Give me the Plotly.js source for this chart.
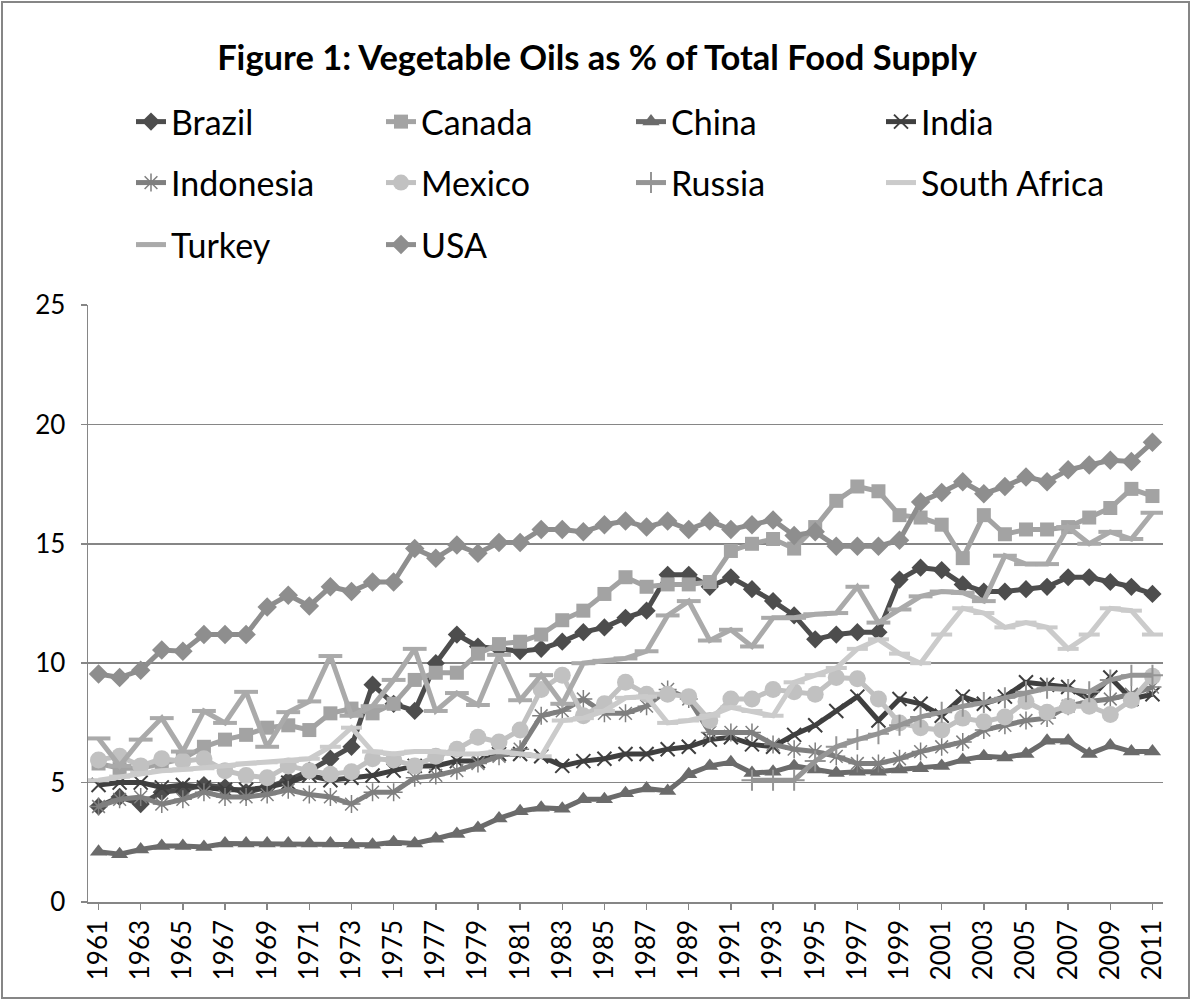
<!DOCTYPE html>
<html>
<head>
<meta charset="utf-8">
<script src="https://cdn.plot.ly/plotly-3.0.1.min.js"></script>
<style>
  html, body { margin: 0; padding: 0; background: #ffffff; }
  #chart { width: 1194px; height: 1000px; position: absolute; left: 0; top: 0; }
  #frame { position: absolute; left: 1px; top: 1px; width: 1185px; height: 994px; border: 2px solid #868686; pointer-events: none; }
</style>
</head>
<body>
<div id="chart"></div>
<div id="frame"></div>
<script>
const years = [1961,1962,1963,1964,1965,1966,1967,1968,1969,1970,
  1971,1972,1973,1974,1975,1976,1977,1978,1979,1980,
  1981,1982,1983,1984,1985,1986,1987,1988,1989,1990,
  1991,1992,1993,1994,1995,1996,1997,1998,1999,2000,
  2001,2002,2003,2004,2005,2006,2007,2008,2009,2010,2011];

const tickYears = [1961,1963,1965,1967,1969,1971,1973,1975,1977,1979,1981,1983,1985,1987,1989,
  1991,1993,1995,1997,1999,2001,2003,2005,2007,2009,2011];
const tickLabels = tickYears.map(String);

const brazil = [4.0,4.4,4.1,4.6,4.7,4.9,4.8,4.6,4.8,5.1,
  5.5,6.0,6.5,9.1,8.3,8.0,10.0,11.2,10.7,10.6,
  10.5,10.6,10.9,11.3,11.5,11.9,12.2,13.7,13.7,13.2,
  13.6,13.1,12.6,12.0,11.0,11.2,11.3,11.3,13.5,14.0,
  13.9,13.3,13.0,13.0,13.1,13.2,13.6,13.6,13.4,13.2,12.9];

const canada = [5.8,5.6,5.6,5.8,6.0,6.5,6.8,7.0,7.3,7.4,
  7.2,7.9,8.1,7.9,8.3,9.3,9.6,9.6,10.4,10.8,
  10.9,11.2,11.8,12.2,12.9,13.6,13.2,13.3,13.3,13.4,
  14.7,15.0,15.2,14.8,15.7,16.8,17.4,17.2,16.2,16.1,
  15.8,14.4,16.2,15.4,15.6,15.6,15.7,16.1,16.5,17.3,17.0];

const china = [2.1,2.0,2.2,2.35,2.35,2.3,2.45,2.45,2.45,2.45,
  2.45,2.45,2.4,2.4,2.5,2.45,2.65,2.85,3.1,3.5,
  3.8,3.95,3.9,4.3,4.3,4.55,4.75,4.65,5.35,5.7,
  5.85,5.4,5.45,5.7,5.55,5.4,5.45,5.45,5.55,5.6,
  5.7,5.95,6.1,6.05,6.2,6.75,6.75,6.2,6.55,6.3,6.3];

const india = [4.9,5.0,5.0,4.8,4.9,4.8,4.7,4.7,4.8,5.0,
  5.3,5.1,5.2,5.3,5.5,5.7,5.7,5.9,5.9,6.2,
  6.2,6.1,5.7,5.9,6.0,6.2,6.2,6.4,6.5,6.8,
  6.9,6.6,6.5,7.0,7.4,8.0,8.6,7.6,8.5,8.3,
  7.8,8.6,8.3,8.6,9.2,9.1,9.0,8.5,9.4,8.5,8.7];

const indonesia = [4.0,4.3,4.4,4.1,4.3,4.6,4.4,4.4,4.5,4.7,
  4.5,4.4,4.1,4.6,4.6,5.2,5.3,5.5,5.8,6.1,
  6.4,7.8,8.0,8.5,7.9,7.9,8.2,8.9,8.5,7.1,
  7.1,7.1,6.6,6.4,6.3,6.1,5.8,5.8,6.0,6.3,
  6.5,6.7,7.2,7.4,7.6,7.7,8.2,8.4,8.5,8.7,9.0];

const mexico = [5.95,6.1,5.7,6.0,5.9,6.0,5.5,5.3,5.2,5.7,
  5.5,5.35,5.45,6.0,5.95,5.7,6.1,6.4,6.9,6.7,
  7.2,8.9,9.5,7.8,8.3,9.2,8.7,8.7,8.6,7.6,
  8.5,8.5,8.9,8.8,8.7,9.4,9.35,8.5,7.5,7.3,
  7.2,7.7,7.55,7.75,8.4,7.95,8.2,8.2,7.85,8.45,9.45];

const russiaYears = [1992,1993,1994,1995,1996,1997,1998,1999,2000,
  2001,2002,2003,2004,2005,2006,2007,2008,2009,2010,2011];
const russia = [5.1,5.1,5.1,5.9,6.5,6.8,7.05,7.4,7.75,
  7.95,8.2,8.35,8.55,8.8,8.95,8.9,8.8,9.3,9.5,9.5];

const southAfrica = [5.1,5.25,5.4,5.5,5.55,5.6,5.7,5.8,5.85,5.9,
  6.0,6.5,7.3,6.3,6.2,6.3,6.3,6.2,6.2,6.3,
  6.2,6.1,7.6,7.7,8.0,8.55,8.6,7.5,7.6,7.8,
  8.15,8.0,7.8,9.2,9.5,9.8,10.6,11.0,10.4,10.0,
  11.2,12.3,12.1,11.5,11.7,11.5,10.6,11.2,12.3,12.2,11.2];

const turkey = [6.85,5.7,6.8,7.7,6.3,8.0,7.5,8.8,6.5,7.95,
  8.4,10.3,7.8,8.2,9.3,10.6,8.0,8.75,8.25,10.35,
  8.45,9.5,8.3,10.0,10.1,10.2,10.5,12.0,12.6,10.95,
  11.4,10.7,11.9,11.9,12.05,12.1,13.2,11.7,12.25,12.8,
  13.0,12.95,12.6,14.5,14.15,14.15,15.7,15.0,15.5,15.2,16.3];

const usa = [9.55,9.4,9.7,10.55,10.5,11.2,11.2,11.2,12.35,12.85,
  12.4,13.2,13.0,13.4,13.4,14.8,14.4,14.95,14.6,15.05,
  15.05,15.6,15.6,15.5,15.8,15.95,15.7,15.95,15.6,15.95,
  15.6,15.8,16.0,15.35,15.5,14.9,14.9,14.9,15.15,16.75,
  17.15,17.6,17.1,17.4,17.8,17.6,18.1,18.3,18.5,18.45,19.25];

const FONT = 'Lato, "Open Sans", sans-serif';
const LW = 5;

function tr(name, x, y, color, marker, legend) {
  return {
    type: 'scatter', mode: 'lines+markers', name: name, x: x, y: y,
    line: {color: color, width: LW},
    marker: Object.assign({color: color}, marker),
    legend: legend, connectgaps: false, hoverinfo: 'skip'
  };
}

const data = [
  tr('Brazil', years, brazil, '#4d4d4d', {symbol: 'diamond', size: 14}, 'legend'),
  tr('Canada', years, canada, '#a3a3a3', {symbol: 'square', size: 14}, 'legend'),
  tr('China', years, china, '#6b6b6b', {symbol: 'triangle-up', size: 15}, 'legend'),
  tr('India', years, india, '#3f3f3f', {symbol: 'x-thin-open', size: 14, line: {color: '#3f3f3f', width: 2}}, 'legend'),
  tr('Indonesia', years, indonesia, '#7f7f7f', {symbol: 'asterisk-open', size: 15, line: {color: '#7f7f7f', width: 1.5}}, 'legend2'),
  tr('Mexico', years, mexico, '#c1c1c1', {symbol: 'circle', size: 17}, 'legend2'),
  tr('Russia', russiaYears, russia, '#959595', {symbol: 'cross-thin-open', size: 15, line: {color: '#959595', width: 2}}, 'legend2'),
  tr('South Africa', years, southAfrica, '#cbcbcb', {symbol: 'line-ew-open', size: 15, line: {color: '#cbcbcb', width: 4}}, 'legend2'),
  tr('Turkey', years, turkey, '#aaaaaa', {symbol: 'line-ew-open', size: 17, line: {color: '#aaaaaa', width: 4}}, 'legend3'),
  tr('USA', years, usa, '#8e8e8e', {symbol: 'diamond', size: 15}, 'legend3')
];

function leg(y) {
  return {
    orientation: 'h', x: 0.04, xanchor: 'left', y: y, yanchor: 'middle',
    entrywidth: 205, entrywidthmode: 'pixels',
    font: {family: FONT, size: 34, color: '#000000'},
    bgcolor: 'rgba(0,0,0,0)', borderwidth: 0, traceorder: 'normal'
  };
}

const layout = {
  width: 1194, height: 1000,
  margin: {l: 88, r: 31, t: 305, b: 98, pad: 0},
  paper_bgcolor: '#ffffff', plot_bgcolor: '#ffffff',
  font: {family: FONT, color: '#000000'},
  title: {
    text: 'Figure 1: Vegetable Oils as % of Total Food Supply',
    font: {family: FONT, size: 34.5, color: '#000000', weight: 'bold'},
    x: 0.5, xanchor: 'center', xref: 'container',
    y: 0.942, yanchor: 'middle', yref: 'container'
  },
  showlegend: true,
  legend: leg(1.3065),
  legend2: leg(1.2044),
  legend3: leg(1.1005),
  xaxis: {
    type: 'linear', range: [1960.5, 2011.5],
    tickmode: 'array', tickvals: tickYears, ticktext: tickLabels,
    tickangle: -90, tickfont: {family: FONT, size: 26, color: '#000000'},
    ticks: 'outside', ticklen: 6, tickcolor: '#868686', tickwidth: 1.5,
    showline: true, linecolor: '#868686', linewidth: 1.5,
    showgrid: false, zeroline: false, fixedrange: true
  },
  yaxis: {
    range: [0, 25], dtick: 5, tick0: 0,
    tickfont: {family: FONT, size: 26, color: '#000000'},
    ticks: 'outside', ticklen: 6, tickcolor: '#868686', tickwidth: 1.5,
    ticklabelstandoff: 10,
    showline: true, linecolor: '#868686', linewidth: 1.5,
    showgrid: true, gridcolor: '#868686', gridwidth: 1.5,
    zeroline: false, fixedrange: true
  }
};

Plotly.newPlot('chart', data, layout, {displayModeBar: false, staticPlot: true});
</script>
</body>
</html>
